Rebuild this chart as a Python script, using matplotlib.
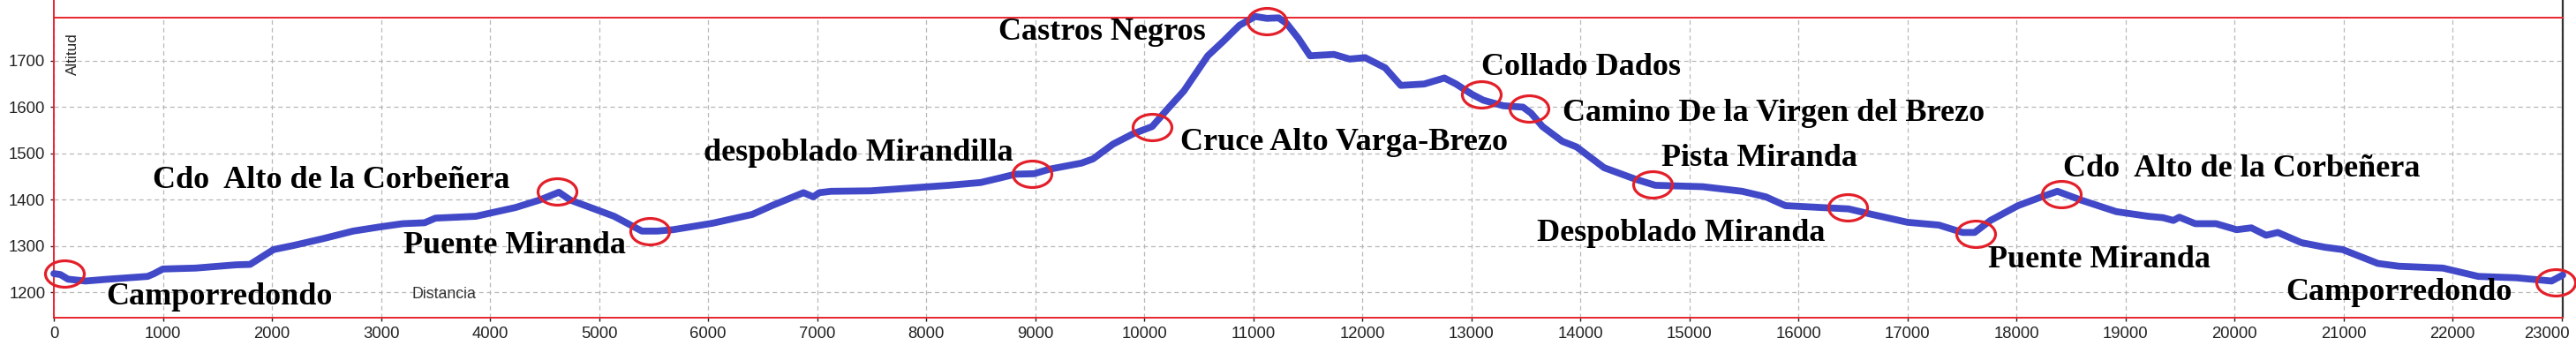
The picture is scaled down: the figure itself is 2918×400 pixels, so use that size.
import numpy as np
import matplotlib
matplotlib.use("Agg")
import matplotlib.pyplot as plt
from matplotlib.path import Path
from matplotlib import font_manager
from matplotlib.transforms import ScaledTranslation

# ---------------- data ----------------
distance = [0, 60, 130, 290, 500, 860, 920, 1000, 1300, 1670, 1800, 2015, 2200, 2475,
            2745, 2990, 3200, 3400, 3500, 3870, 4235, 4453, 4632, 4737, 4956, 5138,
            5393, 5535, 5680, 6042, 6405, 6585, 6875, 6965, 7020, 7127, 7490, 7850,
            8210, 8500, 8680, 8818, 8990, 9134, 9425, 9530, 9714, 9895, 10073, 10218,
            10364, 10583, 10728, 10874, 11018, 11125, 11233, 11306, 11413, 11521,
            11740, 11883, 12026, 12210, 12353, 12567, 12753, 12860, 13004, 13110,
            13293, 13474, 13548, 13653, 13835, 13965, 14218, 14508, 14688, 15122,
            15484, 15701, 15881, 16206, 16459, 16676, 17001, 17288, 17506, 17616,
            17761, 18014, 18230, 18375, 18592, 18916, 19208, 19344, 19439, 19493,
            19640, 19830, 20019, 20154, 20289, 20397, 20613, 20829, 20991, 21315,
            21506, 21911, 22235, 22583, 22770, 22907, 23010]
altitude = [1240, 1238, 1228, 1224, 1228, 1234, 1240, 1250, 1252, 1259, 1260, 1292, 1301, 1316,
            1332, 1341, 1348, 1350, 1360, 1364, 1383, 1399, 1416, 1399, 1380, 1364,
            1332, 1332, 1335, 1349, 1368, 1387, 1415, 1406, 1415, 1418, 1419, 1425,
            1431, 1437, 1447, 1455, 1456, 1466, 1479, 1488, 1520, 1542, 1558, 1597,
            1635, 1711, 1743, 1777, 1796, 1792, 1793, 1781, 1749, 1711,
            1714, 1704, 1707, 1685, 1647, 1650, 1663, 1650, 1628, 1615,
            1603, 1600, 1587, 1558, 1526, 1514, 1469, 1444, 1431, 1428,
            1418, 1406, 1387, 1383, 1380, 1368, 1351, 1345, 1329, 1329,
            1355, 1387, 1406, 1418, 1399, 1374, 1364, 1361, 1355, 1362,
            1348, 1348, 1335, 1339, 1323, 1329, 1307, 1297, 1292, 1262,
            1256, 1252, 1234, 1231, 1227, 1224, 1237]

waypoint_names = ["Camporredondo", "Cdo  Alto de la Corbeñera", "Puente Miranda",
                  "despoblado Mirandilla", "Cruce Alto Varga-Brezo", "Castros Negros",
                  "Collado Dados", "Camino De la Virgen del Brezo", "Pista Miranda",
                  "Despoblado Miranda", "Puente Miranda", "Cdo  Alto de la Corbeñera",
                  "Camporredondo"]
waypoint_dist = [100, 4615, 5463, 8972, 10073, 11124, 13093, 13528, 14659, 16453, 17627, 18411, 22947]
waypoint_alt = [1240, 1418, 1332, 1456, 1557, 1786, 1627, 1597, 1433, 1383, 1326, 1412, 1221]

x_ticks = list(range(0, 23001, 1000))
y_ticks = [1200, 1300, 1400, 1500, 1600, 1700]

# ---------------- layout (label offsets in pixels from each waypoint) ----------------
label_dx = [47, -458, -279, -372, 32, -304, 0, 38, 10, -352, 14, 2, -306]
label_dy = [-35, 4, -25, 15, -26, -21, 22, -14, 21, -38, -38, 20, -20]

W, H, DPI = 2918, 400, 100
fig = plt.figure(figsize=(W / DPI, H / DPI), dpi=DPI)
fig.patch.set_facecolor("white")

L, R, T, B = 61, 2903, 20, 360
ax = fig.add_axes([L / W, 1 - B / H, (R - L) / W, (B - T) / H])
ax.set_xlim(0, 23010)
ax.set_ylim(1144.7, 1793.5)

names = {f.name for f in font_manager.fontManager.ttflist}
if "Liberation Sans Narrow" in names:
    sans, sans_size = "Liberation Sans Narrow", 16
else:
    sans, sans_size = "Liberation Sans", 13.3
serif = "Liberation Serif"

# grid
ax.set_xticks(x_ticks)
ax.set_yticks(y_ticks)
ax.grid(True, color="#b8b8b8", linestyle=(0, (4, 3)), linewidth=0.9, zorder=0)
ax.set_axisbelow(True)

# spines
red = "#e8262e"
for s in ["left", "top", "bottom"]:
    ax.spines[s].set_color(red)
    ax.spines[s].set_linewidth(1.4)
ax.spines["right"].set_color("#333333")
ax.spines["right"].set_linewidth(1.6)

ax.tick_params(direction="out", length=3, width=1, color="#222222",
               labelsize=sans_size, labelcolor="#222222", pad=4)
for lab in ax.get_xticklabels() + ax.get_yticklabels():
    lab.set_fontfamily(sans)
# keep the last x tick label inside the picture
last = ax.get_xticklabels()[-1]
last.set_transform(last.get_transform() + ScaledTranslation(-17 / DPI, 0, fig.dpi_scale_trans))

# extensions of the frame lines above the plot area
ax.plot([0, 0], [1, 1 + T / (B - T)], transform=ax.transAxes, color=red, lw=1.4, clip_on=False)
ax.plot([1, 1], [1, 1 + T / (B - T)], transform=ax.transAxes, color="#333333", lw=1.6, clip_on=False)

# profile
ax.plot(distance, altitude, color="#4149c8", lw=5.6, solid_joinstyle="round",
        solid_capstyle="round", clip_on=False, zorder=3)

# ellipse markers
circ = Path.unit_circle()
ell = Path(circ.vertices * np.array([1.0, 0.68]), circ.codes)
ax.plot(waypoint_dist, waypoint_alt, ls="none", marker=ell, ms=44 * 72 / DPI,
        mfc="none", mec="#e3202a", mew=2.3, clip_on=False, zorder=4)

# labels
for name, d, a, dx, dy in zip(waypoint_names, waypoint_dist, waypoint_alt, label_dx, label_dy):
    ax.annotate(name, (d, a), xytext=(dx, dy), textcoords="offset pixels",
                ha="left", va="baseline", fontsize=26, fontweight="bold",
                family=serif, color="black", zorder=5, annotation_clip=False)

# axis titles
fig.text(82 / W, 1 - 37 / H, "Altitud", rotation=90, ha="center", va="top",
         fontsize=sans_size - 1, family=sans, color="#222222")
fig.text(467 / W, 1 - 333 / H, "Distancia", ha="left", va="center",
         fontsize=sans_size - 0.5, family=sans, color="#333333")

fig.savefig("out.png", dpi=DPI, facecolor="white")
